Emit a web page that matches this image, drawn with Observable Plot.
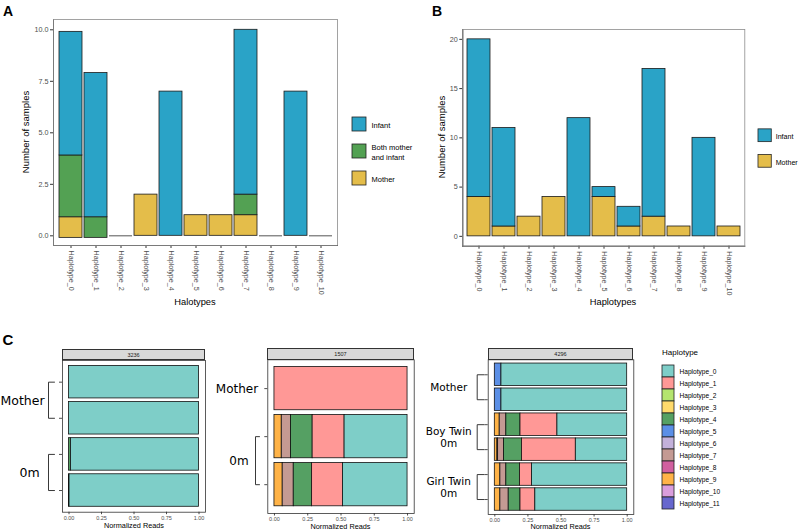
<!DOCTYPE html>
<html><head><meta charset="utf-8">
<script src="https://cdn.jsdelivr.net/npm/d3@7"></script>
<script src="https://cdn.jsdelivr.net/npm/@observablehq/plot@0.6"></script>
<style>
html,body{margin:0;padding:0;background:#fff;}
#root{position:relative;width:799px;height:531px;overflow:hidden;font-family:"Liberation Sans",Arial,sans-serif;}
.wrap{position:absolute;}
.lbl{position:absolute;white-space:nowrap;transform:translate(-50%,-50%);color:#000;line-height:1;}
.lbll{position:absolute;white-space:nowrap;transform:translate(0,-50%);color:#000;line-height:1;}
.ax g[aria-label$="axis"] text, .ax g[aria-label$="tick label"] text{fill:#4d4d4d;}
.strip{position:absolute;box-sizing:border-box;background:#d9d9d9;border:0.8px solid #333;font-size:5.5px;color:#1a1a1a;text-align:center;}
</style></head><body><div id="root"></div>
<script>
// ---------- DATA ----------
const haplotypesAB = ["Haplotype_0","Haplotype_1","Haplotype_2","Haplotype_3","Haplotype_4","Haplotype_5","Haplotype_6","Haplotype_7","Haplotype_8","Haplotype_9","Haplotype_10"];
// Panel A
const groupsA = ["Infant", "Both mother\nand infant", "Mother"];
const groupColorsA = ["#2AA3C7", "#53A153", "#E4BD4A"];
const motherA = [1, 0, 0, 2, 0, 1, 1, 1, 0, 0, 0];
const bothA   = [3, 1, 0, 0, 0, 0, 0, 1, 0, 0, 0];
const infantA = [6, 7, 0, 0, 7, 0, 0, 8, 0, 7, 0];
const baseA   = [-0.1, -0.1, 0, 0, 0, 0, 0, 0, 0, 0, 0];
const yTicksA = [0, 2.5, 5, 7.5, 10];
// Panel B
const groupsB = ["Infant", "Mother"];
const groupColorsB = ["#2AA3C7", "#E4BD4A"];
const motherB = [4, 1, 2, 4, 0, 4, 1, 2, 1, 0, 1];
const infantB = [16, 10, 0, 0, 12, 1, 2, 15, 0, 10, 0];
const yTicksB = [0, 5, 10, 15, 20];
// Panel C
const haplotypesC = ["Haplotype_0","Haplotype_1","Haplotype_2","Haplotype_3","Haplotype_4","Haplotype_5","Haplotype_6","Haplotype_7","Haplotype_8","Haplotype_9","Haplotype_10","Haplotype_11"];
const hapColorsC = ["#7ECEC8","#FF9896","#B4E46E","#FFDA6B","#55A063","#5B8FE6","#C3B1DA","#C49A93","#D1609F","#FFB347","#DA9EDC","#6767CD"];
const xTicksC = [0, 0.25, 0.5, 0.75, 1];
const reads3236 = [
  [["Haplotype_0", 1]],
  [["Haplotype_0", 1]],
  [["Haplotype_4", 0.015], ["Haplotype_0", 0.985]],
  [["Haplotype_4", 0.004], ["Haplotype_0", 0.996]]
];
const groups3236 = [{label: "Mother", rows: [1, 2]}, {label: "0m", rows: [3, 4]}];
const reads1507 = [
  [["Haplotype_1", 1]],
  [["Haplotype_9", 0.055], ["Haplotype_7", 0.07], ["Haplotype_4", 0.162], ["Haplotype_1", 0.24], ["Haplotype_0", 0.473]],
  [["Haplotype_9", 0.062], ["Haplotype_7", 0.083], ["Haplotype_4", 0.138], ["Haplotype_1", 0.232], ["Haplotype_0", 0.485]]
];
const groups1507 = [{label: "Mother", rows: [1]}, {label: "0m", rows: [2, 3]}];
const reads4296 = [
  [["Haplotype_5", 0.05], ["Haplotype_0", 0.95]],
  [["Haplotype_5", 0.05], ["Haplotype_0", 0.95]],
  [["Haplotype_9", 0.037], ["Haplotype_7", 0.05], ["Haplotype_4", 0.107], ["Haplotype_1", 0.279], ["Haplotype_0", 0.527]],
  [["Haplotype_9", 0.02], ["Haplotype_8", 0.005], ["Haplotype_7", 0.045], ["Haplotype_4", 0.135], ["Haplotype_1", 0.407], ["Haplotype_0", 0.388]],
  [["Haplotype_9", 0.042], ["Haplotype_7", 0.045], ["Haplotype_4", 0.103], ["Haplotype_1", 0.091], ["Haplotype_0", 0.719]],
  [["Haplotype_9", 0.042], ["Haplotype_7", 0.063], ["Haplotype_4", 0.089], ["Haplotype_1", 0.112], ["Haplotype_0", 0.694]]
];
const groups4296 = [{label: "Mother", rows: [1, 2]}, {label: "Boy Twin\n0m", rows: [3, 4]}, {label: "Girl Twin\n0m", rows: [5, 6]}];

// ---------- HELPERS ----------
const root = document.getElementById("root");
const FONT = "Liberation Sans, Arial, sans-serif";
function place(el, left, top, cls) {
  const d = document.createElement("div");
  d.className = "wrap" + (cls ? " " + cls : "");
  d.style.left = left + "px"; d.style.top = top + "px";
  d.appendChild(el); root.appendChild(d);
}
function label(text, cx, cy, size, opts = {}) {
  const d = document.createElement("div");
  d.className = opts.left ? "lbll" : "lbl";
  d.textContent = text;
  d.style.left = cx + "px"; d.style.top = cy + "px";
  d.style.fontSize = size + "px";
  if (opts.bold) d.style.fontWeight = "bold";
  if (opts.rotate) d.style.transform = "translate(-50%,-50%) rotate(-90deg)";
  root.appendChild(d);
}
function stackRows(haps, layers, base) {
  const rows = [];
  haps.forEach((h, i) => {
    let y = base ? base[i] : 0;
    for (const {group, values} of layers) {
      const v = values[i];
      if (v > 0) rows.push({hap: h, group, y1: y, y2: y + v});
      y += v;
    }
  });
  return rows;
}
function barPanel({rows, zeros, groups, colors, domainY, ticksY, fmt, width, height, ml, mr, mt, mb, padOuter}) {
  return Plot.plot({
    width, height, marginLeft: ml, marginRight: mr, marginTop: mt, marginBottom: mb,
    style: {background: "transparent", fontFamily: FONT, fontSize: "7.2px", color: "#333", overflow: "visible"},
    x: {domain: haplotypesAB, paddingInner: 0.1, paddingOuter: padOuter, tickRotate: 90, tickSize: 3, tickPadding: 2, label: null, line: true},
    y: {domain: domainY, ticks: ticksY, tickFormat: fmt, tickSize: 3, tickPadding: 2, label: null, line: true},
    color: {domain: groups, range: colors},
    marks: [
      Plot.frame({stroke: "#8c8c8c", strokeWidth: 0.8}),
      Plot.barY(rows, {x: "hap", y1: "y1", y2: "y2", fill: "group", stroke: "#1a1a1a", strokeWidth: 0.8}),
      Plot.tickY(zeros, {x: d => d, y: 0, stroke: "#555", strokeWidth: 1})
    ]
  });
}
function legendPlot(cats, colors, {keyW, rangeY, paddingInner, width, height, fontSize, lineHeight, gap}) {
  return Plot.plot({
    width, height, marginLeft: 0, marginRight: 0, marginTop: 0, marginBottom: 0,
    style: {background: "transparent", fontFamily: FONT, overflow: "visible", color: "#000"},
    x: {domain: [0, 1], range: [1, 1 + keyW], axis: null},
    y: {domain: cats, range: rangeY, paddingInner, paddingOuter: 0, axis: null},
    color: {domain: cats, range: colors},
    marks: [
      Plot.barX(cats, {x1: 0, x2: 1, y: d => d, fill: d => d, stroke: "#222", strokeWidth: 0.8}),
      Plot.text(cats, {x: 1, y: d => d, text: d => d, textAnchor: "start", dx: gap, fill: "black", fontSize, lineHeight})
    ]
  });
}
function panelC({rows, groups, width, height, ml, mr, mt, mb, labelFont, bracketPx, stubPx, labelPx}) {
  const n = rows.length;
  const W = width - ml - mr;
  const toX = px => -0.05 + px * 1.1 / W;
  const segs = [];
  rows.forEach((r, i) => {
    const ordered = [...r].sort((a, b) => haplotypesC.indexOf(b[0]) - haplotypesC.indexOf(a[0]));
    let x = 0;
    for (const [hap, v] of ordered) { segs.push({row: i + 1, hap, x1: x, x2: x + v}); x += v; }
  });
  const brackets = [];
  groups.forEach((g, gi) => {
    if (g.rows.length < 2) return;
    const a = d3.min(g.rows), b = d3.max(g.rows);
    brackets.push({g: gi, x: toX(stubPx), y: a}, {g: gi, x: toX(bracketPx), y: a}, {g: gi, x: toX(bracketPx), y: b}, {g: gi, x: toX(stubPx), y: b});
  });
  const labels = groups.map((g, gi) => ({text: g.label, y: d3.mean(g.rows), x: toX(labelPx[gi])}));
  return Plot.plot({
    width, height, marginLeft: ml, marginRight: mr, marginTop: mt, marginBottom: mb,
    style: {background: "transparent", fontFamily: FONT, fontSize: "5.5px", color: "#4d4d4d", overflow: "visible"},
    x: {domain: [-0.05, 1.05], ticks: xTicksC, tickFormat: d3.format(".2f"), tickSize: 2.5, tickPadding: 1.5, label: null},
    y: {domain: [n + 0.6, 0.4], ticks: d3.range(1, n + 1), tickFormat: () => "", tickSize: 3, label: null},
    color: {domain: haplotypesC, range: hapColorsC},
    marks: [
      Plot.rect(segs, {x1: "x1", x2: "x2", y1: d => d.row - 0.45, y2: d => d.row + 0.45, fill: "hap", stroke: "#111", strokeWidth: 0.8}),
      Plot.frame({stroke: "#333", strokeWidth: 0.8}),
      Plot.line(brackets, {x: "x", y: "y", z: "g", stroke: "#222", strokeWidth: 0.9}),
      Plot.text(labels, {x: "x", y: "y", text: "text", fill: "black", fontSize: labelFont, fontFamily: "DejaVu Sans", lineHeight: 1.15})
    ]
  });
}

// ---------- PANEL A ----------
const rowsA = stackRows(haplotypesAB, [
  {group: "Mother", values: motherA},
  {group: "Both mother\nand infant", values: bothA},
  {group: "Infant", values: infantA}
], baseA);
const zerosA = haplotypesAB.filter((h, i) => motherA[i] + bothA[i] + infantA[i] === 0);
place(barPanel({rows: rowsA, zeros: zerosA, groups: groupsA, colors: groupColorsA, domainY: [-0.47, 10.5], ticksY: yTicksA, fmt: d3.format(".1f"),
  width: 345, height: 300, ml: 53, mr: 8, mt: 19, mb: 55, padOuter: 0.17}), 0, 0, "ax");
place(legendPlot(groupsA, groupColorsA, {keyW: 14, rangeY: [7, 76], paddingInner: 0.47, width: 75, height: 90, fontSize: 7.5, lineHeight: 1.45, gap: 5}), 351, 110);
label("Number of samples", 26, 132, 9.5, {rotate: true});
label("Halotypes", 195, 303, 9.3);
label("A", 8, 11, 14, {bold: true});

// ---------- PANEL B ----------
const rowsB = stackRows(haplotypesAB, [
  {group: "Mother", values: motherB},
  {group: "Infant", values: infantB}
]);
const zerosB = haplotypesAB.filter((h, i) => motherB[i] + infantB[i] === 0);
place(barPanel({rows: rowsB, zeros: zerosB, groups: groupsB, colors: groupColorsB, domainY: [-1, 21], ticksY: yTicksB, fmt: d3.format("d"),
  width: 305, height: 300, ml: 17.3, mr: 5.7, mt: 29, mb: 54.3, padOuter: 0.15}), 445, 0, "ax");
place(legendPlot(groupsB, groupColorsB, {keyW: 13.5, rangeY: [9, 49], paddingInner: 0.49, width: 43, height: 60, fontSize: 7.2, lineHeight: 1.45, gap: 4}), 756.7, 120);
label("Number of samples", 442, 137, 9.5, {rotate: true});
label("Haplotypes", 613, 303, 9.3);
label("B", 437, 11, 14, {bold: true});

// ---------- PANEL C ----------
label("C", 8, 339, 15, {bold: true});
place(panelC({rows: reads3236, groups: groups3236, width: 210, height: 175, ml: 62, mr: 5, mt: 12, mb: 11.3,
  labelFont: 12.5, bracketPx: -14, stubPx: -8, labelPx: [-40, -33]}), 0, 348);
place(panelC({rows: reads1507, groups: groups1507, width: 210, height: 175, ml: 57.3, mr: 6.3, mt: 11.3, mb: 10,
  labelFont: 12, bracketPx: -12.3, stubPx: -8.3, labelPx: [-30.8, -28.9]}), 210, 348);
place(panelC({rows: reads4296, groups: groups4296, width: 220, height: 175, ml: 67.7, mr: 6.7, mt: 11.3, mb: 9,
  labelFont: 10.5, bracketPx: -11, stubPx: -4, labelPx: [-39.5, -39.5, -39.5]}), 420, 348);
function strip(text, left, top, w, h) {
  const d = document.createElement("div");
  d.className = "strip"; d.textContent = text;
  d.style.left = left + "px"; d.style.top = top + "px";
  d.style.width = w + "px"; d.style.height = h + "px"; d.style.lineHeight = (h - 1.6) + "px";
  root.appendChild(d);
}
strip("3236", 62, 348.5, 143, 11.9);
strip("1507", 267.3, 347.7, 146.4, 12);
strip("4296", 487.7, 347.7, 145.6, 12);
label("Normalized Reads", 134, 526, 7.3);
label("Normalized Reads", 340.5, 527.3, 7.3);
label("Normalized Reads", 560.5, 527.3, 7.3);
place(legendPlot(haplotypesC, hapColorsC, {keyW: 12, rangeY: [6.7, 157.7], paddingInner: 0, width: 138, height: 165, fontSize: 6.6, lineHeight: 1, gap: 5}), 661, 355);
label("Haplotype", 662, 352.7, 8, {left: true});
</script></body></html>
